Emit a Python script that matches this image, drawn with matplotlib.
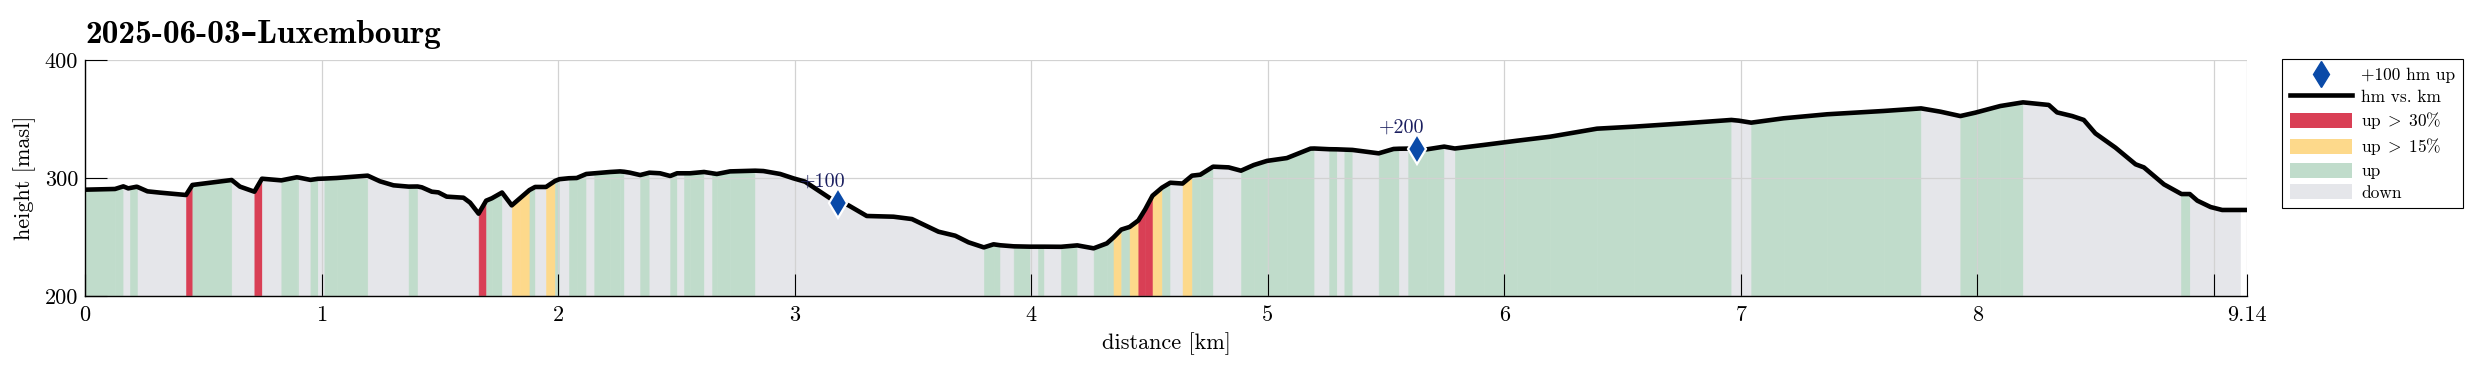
import matplotlib
matplotlib.use('Agg')
import matplotlib.pyplot as plt
from matplotlib.lines import Line2D
from matplotlib.patches import Patch
import numpy as np

plt.rcParams['font.family'] = ['cmr10', 'DejaVu Serif']
plt.rcParams['mathtext.fontset'] = 'cm'
plt.rcParams['axes.formatter.use_mathtext'] = True

title = '2025-06-03–Luxembourg'

# profile points (km, m) and the slope class of the segment that starts at each point
dist_km = [0.000, 0.127, 0.162, 0.183, 0.190, 0.218, 0.222, 0.264, 0.317, 0.427,
           0.454, 0.620, 0.655, 0.716, 0.748, 0.830, 0.895, 0.903, 0.953, 0.984,
           1.012, 1.064, 1.135, 1.195, 1.247, 1.304, 1.368, 1.406, 1.424, 1.466,
           1.494, 1.529, 1.600, 1.628, 1.664, 1.696, 1.720, 1.763, 1.804, 1.840,
           1.879, 1.903, 1.949, 1.987, 2.006, 2.046, 2.079, 2.119, 2.153, 2.220,
           2.262, 2.279, 2.304, 2.347, 2.386, 2.431, 2.474, 2.503, 2.533, 2.558,
           2.617, 2.651, 2.671, 2.727, 2.833, 2.868, 2.939, 2.995, 3.044, 3.150,
           3.228, 3.305, 3.418, 3.496, 3.608, 3.679, 3.735, 3.800, 3.841, 3.869,
           3.926, 3.996, 4.027, 4.055, 4.126, 4.195, 4.264, 4.320, 4.348, 4.381,
           4.416, 4.453, 4.482, 4.513, 4.553, 4.588, 4.640, 4.680, 4.715, 4.769,
           4.835, 4.887, 4.941, 4.997, 5.081, 5.181, 5.197, 5.260, 5.292, 5.324,
           5.358, 5.469, 5.532, 5.555, 5.594, 5.633, 5.673, 5.746, 5.791, 5.913,
           6.054, 6.194, 6.392, 6.547, 6.758, 6.960, 6.991, 7.044, 7.181, 7.365,
           7.604, 7.762, 7.844, 7.928, 7.992, 8.097, 8.193, 8.302, 8.337, 8.401,
           8.450, 8.499, 8.584, 8.669, 8.704, 8.789, 8.863, 8.898, 8.930, 8.986,
           9.035, 9.112, 9.140]
height_m = [290.1, 290.7, 292.9, 291.2, 291.5, 292.6, 292.4, 288.7, 287.6, 285.6,
            294.1, 298.3, 292.7, 288.4, 299.4, 298.0, 300.6, 300.4, 298.4, 299.3,
            299.5, 300.0, 301.1, 302.0, 297.2, 293.8, 292.7, 292.8, 292.1, 288.4,
            287.8, 284.2, 283.3, 279.1, 269.8, 280.8, 282.8, 287.7, 276.8, 283.0,
            289.8, 292.4, 292.4, 297.5, 299.0, 299.8, 300.0, 303.4, 304.0, 305.1,
            305.6, 305.3, 304.5, 302.5, 304.5, 304.0, 301.7, 304.0, 304.0, 304.0,
            305.1, 304.0, 303.4, 305.6, 306.2, 305.9, 303.4, 299.7, 296.9, 282.8,
            276.8, 267.8, 267.2, 265.2, 254.5, 251.1, 245.5, 241.2, 243.8, 243.0,
            242.1, 241.8, 241.8, 241.8, 241.7, 242.9, 240.4, 244.6, 249.6, 256.3,
            258.5, 264.0, 273.4, 285.0, 291.8, 296.0, 295.3, 302.0, 302.8, 309.6,
            309.0, 306.2, 311.0, 314.5, 316.9, 324.9, 325.0, 324.4, 324.3, 324.1,
            323.8, 320.9, 324.6, 324.8, 324.9, 324.5, 324.3, 326.6, 325.0, 328.0,
            331.6, 335.0, 341.8, 343.5, 346.3, 349.2, 348.6, 346.9, 350.6, 354.0,
            356.8, 359.0, 356.2, 352.5, 355.4, 361.0, 364.1, 361.9, 355.6, 352.5,
            349.2, 337.8, 325.7, 311.6, 309.0, 294.6, 286.4, 286.4, 280.8, 275.4,
            272.9, 272.9, 272.9]
seg_cat = ['g', 'g', 'd', 'd', 'g', 'g', 'd', 'd', 'd', 'r',
           'g', 'd', 'd', 'r', 'd', 'g', 'g', 'd', 'g', 'd',
           'g', 'g', 'g', 'd', 'd', 'd', 'g', 'd', 'd', 'd',
           'd', 'd', 'd', 'd', 'r', 'g', 'g', 'd', 'y', 'y',
           'g', 'd', 'y', 'g', 'd', 'g', 'g', 'd', 'g', 'g',
           'g', 'd', 'd', 'g', 'd', 'd', 'g', 'd', 'g', 'g',
           'd', 'g', 'g', 'g', 'd', 'd', 'd', 'd', 'd', 'd',
           'd', 'd', 'd', 'd', 'd', 'd', 'd', 'g', 'g', 'd',
           'g', 'd', 'g', 'd', 'g', 'd', 'g', 'g', 'y', 'g',
           'y', 'r', 'r', 'y', 'g', 'd', 'y', 'g', 'g', 'd',
           'd', 'g', 'g', 'g', 'g', 'g', 'd', 'g', 'd', 'g',
           'd', 'g', 'g', 'd', 'g', 'g', 'g', 'd', 'g', 'g',
           'g', 'g', 'g', 'g', 'g', 'd', 'd', 'g', 'g', 'g',
           'g', 'd', 'd', 'g', 'g', 'g', 'd', 'd', 'd', 'd',
           'd', 'd', 'd', 'd', 'd', 'd', 'g', 'd', 'd', 'd',
           'd', '', '']

# +100 hm markers
mark_km = [3.185, 5.633]
mark_h = [279.1, 324.3]
mark_txt = ['+100', '+200']

cat_color = {'r': '#d93f55', 'y': '#fdd98b', 'g': '#c0dccb', 'd': '#e5e6ea'}
blue = '#0a4aa8'

fig = plt.figure(figsize=(24.76, 3.69), dpi=100)
ax = fig.add_axes([85 / 2476, 1 - 296 / 369, (2247 - 85) / 2476, (296 - 60) / 369])

for i in range(len(dist_km) - 1):
    c = seg_cat[i]
    if not c:
        continue
    ax.fill_between(dist_km[i:i + 2], height_m[i:i + 2], 200,
                    facecolor=cat_color[c], edgecolor=cat_color[c], lw=0.4, zorder=1)

ax.plot(dist_km, height_m, color='k', lw=3.3, zorder=3)
ax.plot(mark_km, mark_h, 'd', ms=15, mfc=blue, mec='white', mew=1.6, zorder=4)
for x, y, t in zip(mark_km, mark_h, mark_txt):
    ax.annotate(t, (x, y), xytext=(-11, 9), textcoords='offset points',
                ha='center', va='bottom', color='#1c2060', fontsize=14.5)

ax.set_xlim(0, 9.14)
ax.set_ylim(200, 400)
xt = [0, 1, 2, 3, 4, 5, 6, 7, 8, 9, 9.14]
ax.set_xticks(xt)
ax.set_xticklabels(['0', '1', '2', '3', '4', '5', '6', '7', '8', '', '9.14'])
ax.set_yticks([200, 300, 400])
ax.set_yticklabels(['200', '300', '400'])
ax.tick_params(direction='in', length=15.5, width=0.8, labelsize=16, color='k')
ax.tick_params(axis='x', pad=7)
ax.tick_params(axis='y', pad=5)
ax.grid(True, color='#d2d2d2', lw=0.9)
ax.set_axisbelow('line')
for s in ['top', 'right']:
    ax.spines[s].set_visible(False)
for s in ['left', 'bottom']:
    ax.spines[s].set_linewidth(1.0)

ax.set_xlabel('distance [km]', fontsize=16, labelpad=5)
ax.set_ylabel('height [masl]', fontsize=16, labelpad=6)
ax.set_title(title, loc='left', fontsize=24, pad=12,
             fontfamily=['cmb10', 'DejaVu Serif'], fontweight='bold')

handles = [
    Line2D([], [], ls='none', marker='d', ms=13, mfc=blue, mec=blue),
    Line2D([], [], color='k', lw=3.3),
    Patch(facecolor=cat_color['r']),
    Patch(facecolor=cat_color['y']),
    Patch(facecolor=cat_color['g']),
    Patch(facecolor=cat_color['d']),
]
labels = ['+100 hm up', 'hm vs. km', 'up$\\;>\\;$30%', 'up$\\;>\\;$15%', 'up', 'down']
leg = ax.legend(handles, labels, loc='upper left', bbox_to_anchor=(2282 / 2476, 1 - 59 / 369),
                bbox_transform=fig.transFigure, borderaxespad=0, fontsize=12.5,
                frameon=True, fancybox=False, edgecolor='k', framealpha=1,
                handlelength=3.6, handleheight=0.95, handletextpad=0.5,
                labelspacing=0.3, borderpad=0.45)
leg.get_frame().set_linewidth(0.8)

fig.savefig('out.png', dpi=100)
